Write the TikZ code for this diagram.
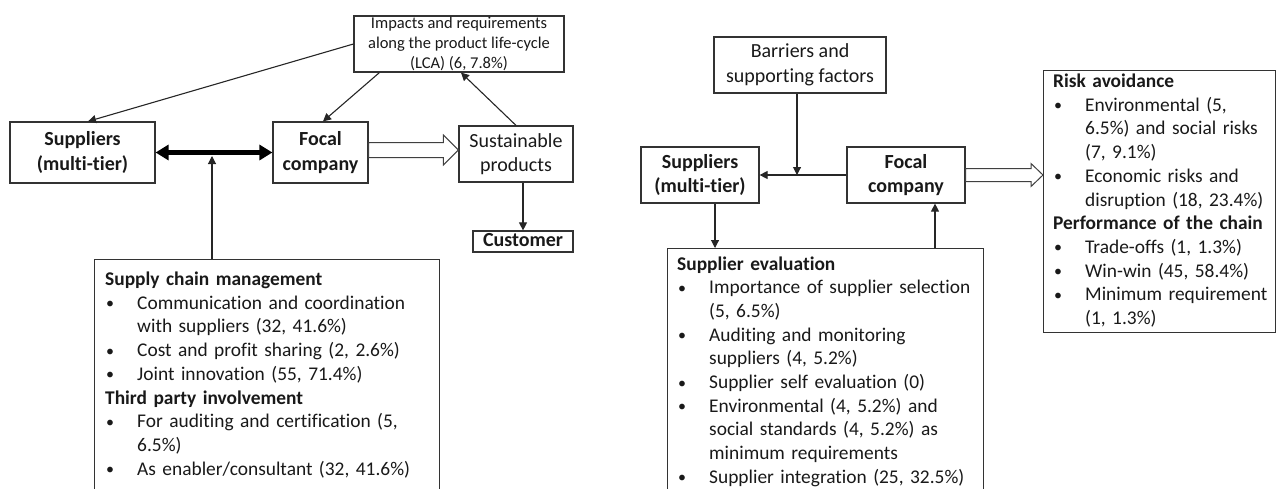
\documentclass[tikz,border=0pt]{standalone}
\usepackage{fontspec}
\setmainfont{Carlito}[Ligatures=NoCommon]
\usetikzlibrary{arrows.meta,calc}
\newcommand\bl{\makebox[32pt][l]{\hspace{1pt}\raisebox{0.5pt}{\fontsize{16}{16}\selectfont •}}}
\newcommand\hg{\hspace*{32pt}}
\begin{document}
\begin{tikzpicture}[x=1pt,y=-1pt,
  box/.style={draw=black!80, line width=1.2pt, inner sep=0pt, align=center, text=black!90,
    font=\fontsize{20}{24.5}\selectfont},
  boldbox/.style={box, font=\fontsize{20}{24.5}\selectfont\bfseries},
  listbox/.style={draw=black!80, line width=1.2pt, inner sep=0pt, anchor=north west},
  listtext/.style={anchor=base west, inner sep=0pt, align=left, text=black!90,
    font=\fontsize{19.4}{23.7}\selectfont},
  arr/.style={line width=1.1pt, draw=black!85, -{Triangle[length=8pt,width=8pt]}},
  hollow/.style={draw=black!75, line width=1pt, fill=white, line join=miter}
]
\useasboundingbox (0,0) rectangle (1276,488);
\clip (0,0) rectangle (1276,488);

% ---------------- left diagram ----------------
\node[box, minimum width=210, minimum height=56, font=\fontsize{16.5}{20}\selectfont] (imp) at (459,44)
  {Impacts and requirements\\along the product life-cycle\\(LCA) (6, 7.8\%)};
\node[boldbox, minimum width=145, minimum height=61] (supL) at (82.5,152.5) {Suppliers\\(multi-tier)};
\node[boldbox, minimum width=95, minimum height=61] (focL) at (320.5,152.5) {Focal\\company};
\node[box, minimum width=114, minimum height=56] (sust) at (516,154) {Sustainable\\products};
\node[boldbox, minimum width=100, minimum height=21, text height=13pt, text depth=3pt] (cust) at (523,241.5) {Customer};

\node[listbox, minimum width=345, minimum height=250] (scm) at (94,259) {};
\node[listtext, text width=335] (scmtext) at (105,285.5) {%
\textbf{Supply chain management}\\
\bl Communication and coordination\\
\hg with suppliers (32, 41.6\%)\\
\bl Cost and profit sharing (2, 2.6\%)\\
\bl Joint innovation (55, 71.4\%)\\
\textbf{Third party involvement}\\
\bl For auditing and certification (5,\\
\hg 6.5\%)\\
\bl As enabler/consultant (32, 41.6\%)};

% connectors left
\draw[arr] (imp.west) -- ($(supL.north)+(5.5,0)$);
\draw[arr] ($(imp.south west)+(26,0)$) -- ($(focL.north)+(2.5,0)$);
\draw[arr] (sust.north) -- ($(imp.south)+(2,0)$);
\draw[arr] (sust.south -| cust.north) -- (cust.north);
\draw[line width=5.5pt, draw=black, {Triangle[length=13pt,width=15pt]}-{Triangle[length=13pt,width=15pt]}]
  (supL.east) -- (focL.west);
\coordinate (j1) at (212,156);
\draw[arr] (scm.north -| j1) -- (j1);
% hollow arrow left
\coordinate (s1) at ($(focL.east)+(0,-2.5)$);
\coordinate (t1) at (sust.west |- s1);
\draw[hollow] ($(s1)+(0,-7.5)$) -- ($(t1)+(-15,-7.5)$) -- ($(t1)+(-15,-15)$) -- (t1)
  -- ($(t1)+(-15,15)$) -- ($(t1)+(-15,7.5)$) -- ($(s1)+(0,7.5)$) -- cycle;

% ---------------- right diagram ----------------
\node[box, minimum width=172, minimum height=56] (bar) at (800,65) {Barriers and\\supporting factors};
\node[boldbox, minimum width=118, minimum height=56] (supR) at (700,175) {Suppliers\\(multi-tier)};
\node[boldbox, minimum width=118, minimum height=56] (focR) at (906,175) {Focal\\company};

\node[listbox, minimum width=316, minimum height=260] (se) at (667,248) {};
\node[listtext, text width=330] (setext) at (677,270) {%
\textbf{Supplier evaluation}\\
\bl Importance of supplier selection\\
\hg (5, 6.5\%)\\
\bl Auditing and monitoring\\
\hg suppliers (4, 5.2\%)\\
\bl Supplier self evaluation (0)\\
\bl Environmental (4, 5.2\%) and\\
\hg social standards (4, 5.2\%) as\\
\hg minimum requirements\\
\bl Supplier integration (25, 32.5\%)};

\node[listbox, minimum width=232, minimum height=262] (risk) at (1043,70) {};
\node[listtext, text width=240] (risktext) at (1053,87.5) {%
\textbf{Risk avoidance}\\
\bl Environmental (5,\\
\hg 6.5\%) and social risks\\
\hg (7, 9.1\%)\\
\bl Economic risks and\\
\hg disruption (18, 23.4\%)\\
\textbf{Performance of the chain}\\
\bl Trade-offs (1, 1.3\%)\\
\bl Win-win (45, 58.4\%)\\
\bl Minimum requirement\\
\hg (1, 1.3\%)};

% connectors right
\draw[arr] (focR.west) -- (supR.east);
\coordinate (j2) at (797,175);
\draw[arr] (bar.south -| j2) -- (j2);
\draw[arr] ($(supR.south)+(15,0)$) -- ($(se.north west)+(48,0)$);
\draw[arr] ($(se.north west)+(268,0)$) -- ($(focR.south)+(29,0)$);
% hollow arrow right
\coordinate (s2) at (focR.east);
\coordinate (t2) at (risk.west |- s2);
\draw[hollow] ($(s2)+(0,-6.5)$) -- ($(t2)+(-12,-6.5)$) -- ($(t2)+(-12,-11.5)$) -- (t2)
  -- ($(t2)+(-12,11.5)$) -- ($(t2)+(-12,6.5)$) -- ($(s2)+(0,6.5)$) -- cycle;
\end{tikzpicture}
\end{document}
